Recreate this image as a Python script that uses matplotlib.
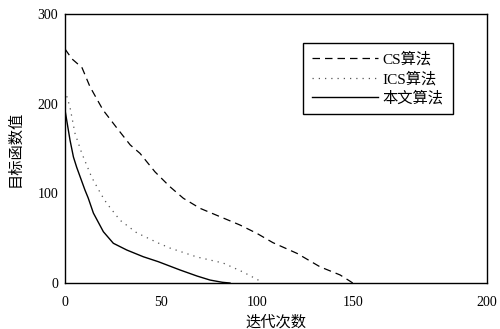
import matplotlib
matplotlib.use("Agg")
import matplotlib.pyplot as plt

plt.rcParams["font.family"] = ["Liberation Serif", "Noto Sans CJK SC"]

# iterations / objective values
cs_x = [0, 3.6, 6.3, 8.9, 13, 19.8, 27, 34, 39.1, 46.9, 54.7, 61.7, 70.4, 80.8,
        91.2, 100, 108.4, 121, 133, 143.4, 148.6, 150]
cs_y = [261, 250, 245, 240, 219, 193, 173, 154, 144.6, 124, 107.4, 94.5, 83.3, 74,
        64.7, 55.4, 45, 33, 18, 9, 2, 0]

ics_x = [0, 2.6, 5.2, 8.7, 13.9, 18.8, 21.7, 28.7, 37.4, 48.6, 54.7, 68.8, 82.4,
         92.8, 101.7, 102.5]
ics_y = [215, 196, 167, 145, 118, 99, 89, 70, 56, 44.6, 39, 29, 22.3,
         12.3, 2.2, 0]

ours_x = [0, 2.6, 4.4, 6.1, 10.4, 12.1, 14.8, 20, 25.2, 32.2, 40.8, 48.6, 60,
          68.8, 75.6, 82, 86]
ours_y = [193, 159.5, 140.5, 129, 103.7, 94.8, 78, 57.2, 44.3, 36.8, 29.3, 23.8, 14.5,
          7.8, 3.3, 0.8, 0]

xtick_labels = ["0", "50", "100", "150", "200"]
ytick_labels = ["0", "100", "200", "300"]

fig = plt.figure(figsize=(5.0, 3.29), dpi=100)
ax = fig.add_axes([0.13, 0.1398, 0.844, 0.8176])

ax.plot(cs_x, cs_y, color="black", lw=0.9, dashes=(6, 4), label="CS算法")
ax.plot(ics_x, ics_y, color="#555555", lw=0.9, linestyle=(0, (1, 4)), label="ICS算法")
ax.plot(ours_x, ours_y, color="black", lw=1.0, label="本文算法")

ax.set_xlim(0, 220)
ax.set_ylim(0, 300)
ax.set_xticks([0, 50, 100, 150, 220])
ax.set_xticklabels(xtick_labels)
ax.set_yticks([0, 100, 200, 300])
ax.set_yticklabels(ytick_labels)
ax.tick_params(length=0, labelsize=10)
ax.tick_params(axis="x", pad=9)
ax.tick_params(axis="y", pad=5)
for s in ax.spines.values():
    s.set_linewidth(1.0)

ax.set_xlabel("迭代次数", fontsize=11, labelpad=5)
ax.set_ylabel("目标函数值", fontsize=11, labelpad=11)

leg = ax.legend(loc="upper left", bbox_to_anchor=(0.564, 0.892), borderaxespad=0,
                frameon=True, fancybox=False, edgecolor="black", framealpha=1,
                handlelength=4.3, handletextpad=0.3, labelspacing=0.3,
                borderpad=0.6, fontsize=11)
leg.get_frame().set_linewidth(1.0)

fig.savefig("out.png", dpi=100)
